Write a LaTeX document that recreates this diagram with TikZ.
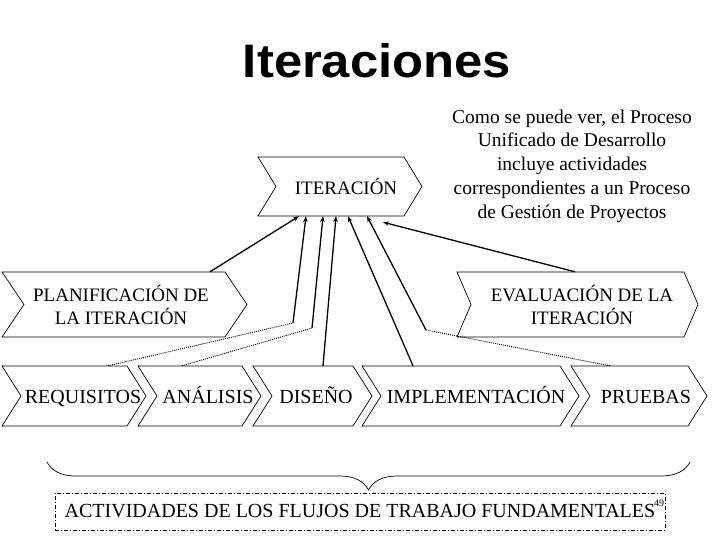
\documentclass[tikz,border=0pt]{standalone}
\usepackage{graphicx}
\usepackage{fontspec}
\setmainfont{Liberation Serif}
\newfontfamily\titlefont{Liberation Sans}
\usepackage{tikz}
\usetikzlibrary{arrows.meta,decorations.pathreplacing}

\begin{document}
\begin{tikzpicture}[x=1pt,y=-1pt,
  chev/.style={draw,line width=0.7pt},
  toplbl/.style={inner sep=0,align=center,font=\fontsize{19}{23}\selectfont},
  rowlbl/.style={inner sep=0,minimum height=60pt,text height=18pt,text depth=4pt,font=\fontsize{20}{24}\selectfont},
  feed/.style={line width=1.3pt,-{Stealth[length=6pt,width=4.5pt]}},
  hop/.style={line width=0.9pt,dash pattern=on 1pt off 1pt}]
\useasboundingbox (0,0) rectangle (720,540);

\node[font=\titlefont\bfseries\fontsize{47}{50}\selectfont] (title) at (377,61) {\scalebox{1.08}[1]{Iteraciones}};

% upper chevrons
\foreach \nm/\cx/\xa/\xb/\ya/\yb/\dd/\txt in {
  iter/346/258/404/157/216/18/ITERACIÓN,
  plan/121/2/225/272/337/22/PLANIFICACIÓN DE\\LA ITERACIÓN,
  eval/582/457/684/272/337/14/EVALUACIÓN DE LA\\ITERACIÓN}{
  \draw[chev] (\xa,\ya) -- (\xb,\ya) -- ({\xb+\dd},{(\ya+\yb)/2}) -- (\xb,\yb) -- (\xa,\yb) -- ({\xa+\dd},{(\ya+\yb)/2}) -- cycle;
  \node[toplbl,minimum height={\yb-\ya}] (\nm) at (\cx,{(\ya+\yb)/2}) {\txt};
}

% workflow row
\foreach \nm/\cx/\xa/\xb/\txt in {req/83/2/127/REQUISITOS, ana/208/138/242/ANÁLISIS,
  dis/316/253/353/DISEÑO, impl/476/362/560/IMPLEMENTACIÓN, prue/646/571/688/PRUEBAS}{
  \draw[chev] (\xa,366) -- (\xb,366) -- ({\xb+19},396) -- (\xb,426) -- (\xa,426) -- ({\xa+19},396) -- cycle;
  \node[rowlbl] (\nm) at (\cx,396) {\txt};
}

\node[align=center,inner sep=0,font=\fontsize{19.5}{23.8}\selectfont] (desc) at (572,166)
  {Como se puede ver, el Proceso\\Unificado de Desarrollo\\incluye actividades\\correspondientes a un Proceso\\de Gestión de Proyectos};

% connectors
\coordinate (kreq) at (293,323);
\coordinate (kana) at (312,328);
\coordinate (kprue) at (426,330);
\draw[feed] ([xshift=89pt]plan.north) -- ([xshift=-47pt]iter.south);
\draw[hop] ([xshift=25pt]req.north) -- (kreq);
\draw[feed] (kreq) -- ([xshift=-40pt]iter.south);
\draw[hop] ([xshift=-26pt]ana.north) -- (kana);
\draw[feed] (kana) -- ([xshift=-23pt]iter.south);
\draw[feed] ([xshift=7pt]dis.north) -- ([xshift=-10pt]iter.south);
\draw[feed] ([xshift=-63pt]impl.north) -- ([xshift=2pt]iter.south);
\draw[hop] ([xshift=-36pt]prue.north) -- (kprue);
\draw[feed] (kprue) -- ([xshift=21pt]iter.south);
\draw[feed] ([xshift=-7pt]eval.north) -- ([xshift=37pt,yshift=-6pt]iter.south);

\draw[line width=0.7pt,decorate,decoration={brace,mirror,amplitude=28pt}] (47,462) -- (690,462);

\node[draw,line width=0.7pt,dash pattern=on 4pt off 2pt on 1pt off 2pt,minimum width=610pt,
  minimum height=37pt,inner sep=0,font=\fontsize{20}{24}\selectfont] (fund) at (360,511.5)
  {ACTIVIDADES DE LOS FLUJOS DE TRABAJO FUNDAMENTALES\hspace{20pt}};
\node[inner sep=0,font=\fontsize{10}{10}\selectfont] (pnum) at (659,503) {49};
\end{tikzpicture}
\end{document}
